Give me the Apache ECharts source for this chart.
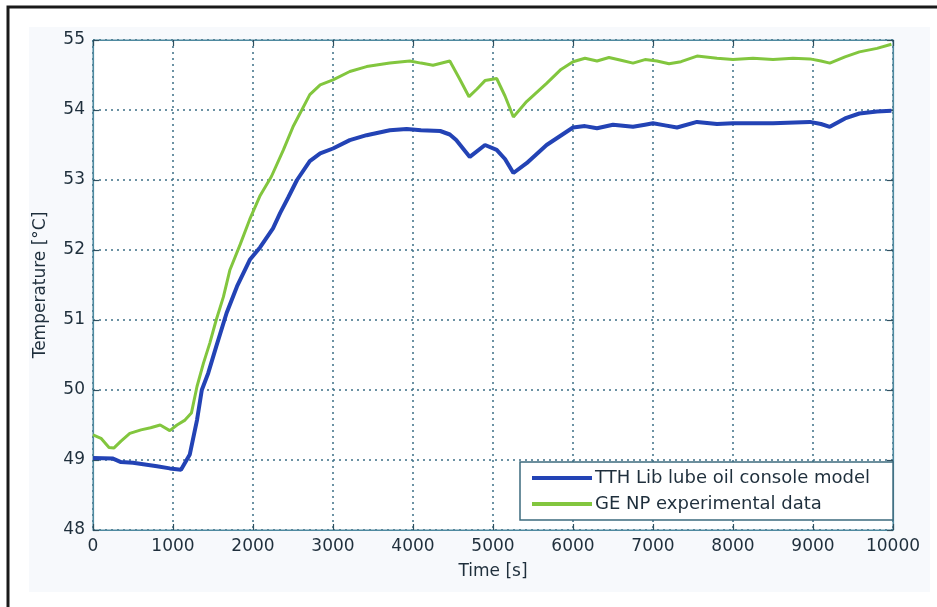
<!DOCTYPE html>
<html>
<head>
<meta charset="utf-8">
<script src="https://cdn.jsdelivr.net/npm/echarts@6/dist/echarts.min.js"></script>
<style>
html,body{margin:0;padding:0;background:#ffffff;}
#chart{width:937px;height:607px;}
</style>
</head>
<body>
<div id="chart"></div>
<script>
// Data
var xTicks = [0,1000,2000,3000,4000,5000,6000,7000,8000,9000,10000];
var yTicks = [48,49,50,51,52,53,54,55];
var seriesNames = ['TTH Lib lube oil console model', 'GE NP experimental data'];

var modelTime = [0,250,350,500,800,960,1100,1210,1300,1360,1440,1540,1670,1800,1960,2090,2250,2340,2440,2550,2710,2840,3000,3210,3420,3710,3920,4100,4340,4460,4540,4710,4900,5046,5150,5255,5420,5670,6000,6150,6300,6500,6750,6900,7000,7150,7300,7550,7800,8000,8500,8960,9100,9210,9400,9580,9800,9980];
var modelTemp = [49.03,49.02,48.97,48.96,48.91,48.88,48.86,49.08,49.57,50.0,50.24,50.62,51.1,51.48,51.86,52.04,52.31,52.53,52.75,53.0,53.27,53.38,53.45,53.57,53.64,53.71,53.73,53.71,53.70,53.65,53.57,53.33,53.50,53.43,53.30,53.10,53.24,53.50,53.75,53.77,53.74,53.79,53.76,53.79,53.81,53.78,53.75,53.83,53.80,53.81,53.81,53.83,53.80,53.76,53.88,53.95,53.98,53.99];

var expTime = [0,100,200,260,350,460,600,720,840,960,1050,1150,1230,1300,1380,1460,1540,1630,1710,1840,1960,2090,2230,2380,2500,2610,2710,2840,3000,3210,3420,3710,3960,4100,4250,4460,4580,4700,4800,4900,5046,5150,5255,5420,5670,5850,6000,6150,6300,6450,6600,6750,6900,7050,7200,7350,7550,7800,8000,8250,8500,8750,8960,9100,9210,9400,9580,9800,9980];
var expTemp = [49.36,49.31,49.18,49.17,49.27,49.38,49.43,49.46,49.50,49.42,49.50,49.57,49.67,50.05,50.38,50.67,51.00,51.33,51.71,52.08,52.44,52.78,53.05,53.43,53.76,54.0,54.22,54.36,54.43,54.55,54.62,54.67,54.70,54.67,54.64,54.70,54.45,54.19,54.30,54.42,54.45,54.2,53.90,54.12,54.38,54.58,54.69,54.74,54.70,54.75,54.71,54.67,54.72,54.70,54.66,54.69,54.77,54.74,54.72,54.74,54.72,54.74,54.73,54.70,54.67,54.76,54.83,54.88,54.94];

function pairs(xs, ys){ return xs.map(function(x,i){ return [x, ys[i]]; }); }

var FONT = '"DejaVu Sans", "Liberation Sans", Arial, sans-serif';
var AXIS_COLOR = '#4f8aa0';
var TEXT_COLOR = '#1f2f3c';

var chart = echarts.init(document.getElementById('chart'), null, {renderer:'canvas'});
chart.setOption({
  animation: false,
  backgroundColor: '#ffffff',
  graphic: [
    {type:'rect', z:-10, shape:{x:29,y:27,width:901,height:565}, style:{fill:'#f7f9fc'}},
    {type:'rect', z:-9, shape:{x:8,y:7,width:960,height:640}, style:{fill:'none', stroke:'#1a1a1a', lineWidth:3}}
  ],
  grid: {left:93, top:40, width:800, height:490, show:true, backgroundColor:'#ffffff', borderColor:AXIS_COLOR, borderWidth:1},
  legend: {
    data: seriesNames,
    orient: 'vertical',
    left: 520, top: 462,
    backgroundColor: '#ffffff',
    borderColor: '#3d6b7e', borderWidth: 1.5,
    padding: [7, 23, 7, 12],
    itemGap: 8,
    itemWidth: 60, itemHeight: 4,
    icon: 'rect',
    textStyle: {fontFamily: FONT, fontSize: 18, color: TEXT_COLOR, padding:[0,0,0,-2]}
  },
  xAxis: [
    {type:'value', min:0, max:10000, interval:1000,
     name:'Time [s]', nameLocation:'middle', nameGap:33,
     nameTextStyle:{fontFamily:FONT, fontSize:17, color:TEXT_COLOR},
     axisLine:{show:true, onZero:false, lineStyle:{color:AXIS_COLOR, width:1.2}},
     axisTick:{show:true, inside:true, length:6, lineStyle:{color:'#2f4f5f', width:1.2}},
     axisLabel:{fontFamily:FONT, fontSize:17, color:TEXT_COLOR, margin:8,
       formatter:function(v){ return xTicks.indexOf(v) >= 0 ? String(v) : ''; }},
     splitLine:{show:true, lineStyle:{color:'#3c6f86', type:[2,4], width:1.5}}
    },
    {type:'value', min:0, max:10000, interval:1000, position:'top',
     axisLine:{show:true, onZero:false, lineStyle:{color:AXIS_COLOR, width:1.2}},
     axisTick:{show:true, inside:true, length:6, lineStyle:{color:'#2f4f5f', width:1.2}},
     axisLabel:{show:false}, splitLine:{show:false}}
  ],
  yAxis: [
    {type:'value', min:48, max:55, interval:1,
     name:'Temperature [°C]', nameLocation:'middle', nameGap:44,
     nameTextStyle:{fontFamily:FONT, fontSize:17, color:TEXT_COLOR},
     axisLine:{show:true, onZero:false, lineStyle:{color:AXIS_COLOR, width:1.2}},
     axisTick:{show:true, inside:true, length:6, lineStyle:{color:'#2f4f5f', width:1.2}},
     axisLabel:{fontFamily:FONT, fontSize:17, color:TEXT_COLOR, margin:8,
       formatter:function(v){ return yTicks.indexOf(v) >= 0 ? String(v) : ''; }},
     splitLine:{show:true, lineStyle:{color:'#3c6f86', type:[2,4], width:1.5}}
    },
    {type:'value', min:48, max:55, interval:1, position:'right',
     axisLine:{show:true, onZero:false, lineStyle:{color:AXIS_COLOR, width:1.2}},
     axisTick:{show:true, inside:true, length:6, lineStyle:{color:'#2f4f5f', width:1.2}},
     axisLabel:{show:false}, splitLine:{show:false}}
  ],
  series: [
    {name: seriesNames[1], type:'line', data: pairs(expTime, expTemp), showSymbol:false, symbol:'none',
     lineStyle:{color:'#82c63e', width:3}, itemStyle:{color:'#82c63e'}, z:3},
    {name: seriesNames[0], type:'line', data: pairs(modelTime, modelTemp), showSymbol:false, symbol:'none',
     lineStyle:{color:'#2343b5', width:4}, itemStyle:{color:'#2343b5'}, z:4}
  ]
});
</script>
</body>
</html>
